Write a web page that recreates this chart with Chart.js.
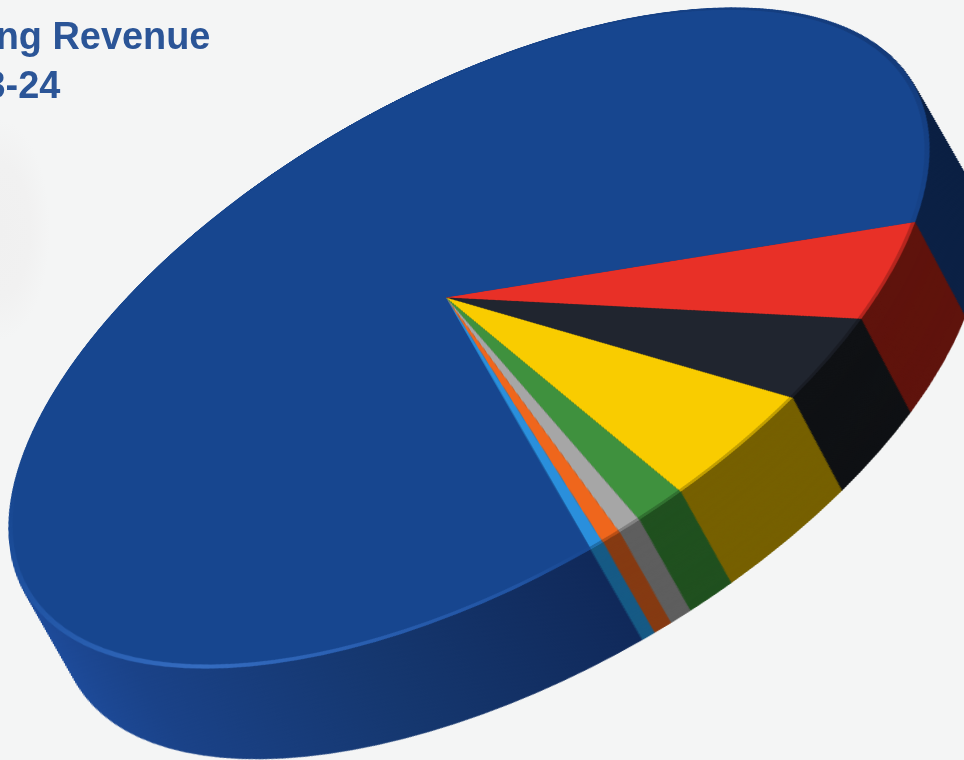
<!DOCTYPE html>
<html><head><meta charset="utf-8">
<script src="https://cdn.jsdelivr.net/npm/chart.js@4"></script>
<style>
html,body{margin:0;padding:0;width:964px;height:760px;overflow:hidden;background:#f4f5f5}
#wrap{position:absolute;left:0;top:0;width:964px;height:760px;overflow:hidden;
 background:radial-gradient(ellipse 50px 110px at 0px 230px,#f0f0f0 0%,#f1f1f1 60%,rgba(244,245,245,0) 100%)}
#pie{position:absolute;left:0;top:0}
#title{position:absolute;left:-137px;top:12px;font:bold 37.9px/49px "Liberation Sans",Arial,sans-serif;color:#2b5597;white-space:nowrap}
</style></head>
<body><div id="wrap"><canvas id="pie" width="1600" height="1600"></canvas>
<div id="title">Operating Revenue<br>FY 2023-24</div></div>
<script>
const categories=["Blue share","Red share","Dark share","Yellow share","Green share","Grey share","Orange share","Light blue share"];
const values=[85.8,4.2,3.25,4.0,1.3,0.6,0.5,0.35];
const topColors=["#17468f","#e83027","#20252f","#f9cc00","#3f913e","#a6a6a6","#ef661c","#2a8fdc"];
const wallColors=["#0f2a58","#5f130c","#0f1114","#766000","#20501f","#5e5e5e","#853a12","#165a85"];

// Projective placement of the flat pie on the page
const S=1600,R=520;
const centre=[469,338],semiA=512,semiB=244,kP=-0.191,depth=104;
const eu=[0.868,-0.496],ev=[0.496,0.868];
const alpha=semiA*Math.sqrt(1-kP*kP);
const canvas=document.getElementById('pie');
(function(){
 const cx=centre[0]-S/2,cy=centre[1]-S/2;
 const h11=alpha/R*eu[0],h12=semiB/R*ev[0]+cx*kP/R,h13=semiB*kP*ev[0]+cx;
 const h21=alpha/R*eu[1],h22=semiB/R*ev[1]+cy*kP/R,h23=semiB*kP*ev[1]+cy;
 const h31=0,h32=kP/R,h33=1;
 canvas.style.transformOrigin=(S/2)+'px '+(S/2)+'px';
 canvas.dataset.m=['matrix3d(',[h11,h21,0,h31,h12,h22,0,h32,0,0,1,0,h13,h23,0,h33].join(','),')'].join('');
})();

function layerFit(t){
 const tau=t/semiB,k=kP;
 const A=1-k*k,B=(1-tau*k)*(1-tau*k)-k*k,C=tau*(tau*k-1-k*k),D=(k-tau)*(k-tau)-1;
 const y0=-C/B,E=C*C/B-D;
 return {rx:Math.sqrt(E/A),ry:Math.sqrt(E/B),y0};
}
const wallPlugin={id:'wall',
 beforeDatasetsDraw(chart){
  const ctx=chart.ctx,arcs=chart.getDatasetMeta(0).data;
  const cx=arcs[0].x,cy=arcs[0].y;
  const g=ctx.createLinearGradient(cx-R,0,cx+R,0);
  g.addColorStop(0,'#1e4c9c');g.addColorStop(0.1,'#1a4288');g.addColorStop(0.3,'#15376f');
  g.addColorStop(0.5,'#10295a');g.addColorStop(0.75,'#0c2248');g.addColorStop(1,'#0a1f42');
  for(let t=depth;t>=1;t-=1){
   const f=layerFit(t);
   ctx.save();
   ctx.translate(cx,cy+f.y0*R);
   ctx.scale(f.rx,f.ry);
   ctx.translate(-cx,-cy);
   arcs.forEach((arc,i)=>{
    const o=arc.options;
    arc.options=Object.assign({},o,{backgroundColor:i===0?g:wallColors[i],borderColor:i===0?g:wallColors[i],borderWidth:1,borderJoinStyle:'round'});
    arc.draw(ctx);
    arc.options=o;
   });
   ctx.restore();
  }
 },
 afterDatasetsDraw(chart){
  const ctx=chart.ctx,arcs=chart.getDatasetMeta(0).data,a=arcs[0];
  const cx=a.x,cy=a.y,r=a.outerRadius;
  // rim bevel on the big slice
  const cg=ctx.createConicGradient(0,cx,cy);
  const stops=[[0,'rgba(8,24,60,0.25)'],[0.24,'rgba(23,70,143,0)'],[0.27,'rgba(52,110,200,0.35)'],[0.37,'rgba(60,118,205,0.8)'],[0.47,'rgba(40,95,180,0.5)'],[0.56,'rgba(23,70,143,0)'],[0.85,'rgba(10,30,70,0.1)'],[1,'rgba(8,24,60,0.25)']];
  stops.forEach(s=>cg.addColorStop(s[0],s[1]));
  ctx.save();
  ctx.beginPath();ctx.arc(cx,cy,r,a.startAngle,a.endAngle);ctx.arc(cx,cy,r-5,a.endAngle,a.startAngle,true);ctx.closePath();
  ctx.fillStyle=cg;ctx.fill();
  // darker soft rim on the small slices
  for(let i=1;i<arcs.length;i++){
   const b=arcs[i];
   ctx.beginPath();ctx.arc(cx,cy,r,b.startAngle,b.endAngle);ctx.arc(cx,cy,r-4,b.endAngle,b.startAngle,true);ctx.closePath();
   ctx.fillStyle='rgba(0,0,0,0.22)';ctx.fill();
  }
  ctx.restore();
 }
};
const chart=new Chart(canvas,{
 type:'pie',
 data:{labels:categories,datasets:[{data:values,backgroundColor:topColors,borderWidth:0,hoverOffset:0}]},
 options:{responsive:false,maintainAspectRatio:false,animation:false,devicePixelRatio:1,
  rotation:179.9,
  layout:{padding:(S-2*R)/2},
  events:[],
  plugins:{legend:{display:false},tooltip:{enabled:false},title:{display:false}}},
 plugins:[wallPlugin]
});
canvas.style.transform=canvas.dataset.m;
</script></body></html>
